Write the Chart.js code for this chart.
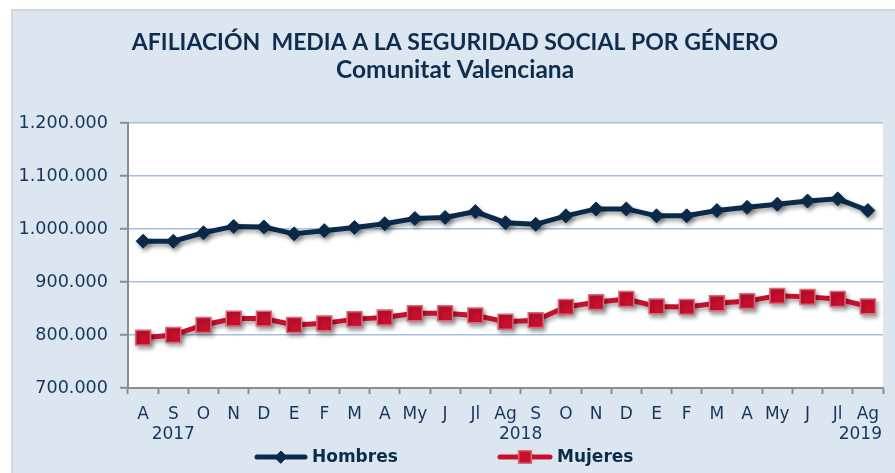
<!DOCTYPE html>
<html>
<head>
<meta charset="utf-8">
<script src="https://cdn.jsdelivr.net/npm/chart.js@4.4.1/dist/chart.umd.min.js"></script>
<style>
  html, body { margin: 0; padding: 0; background: #ffffff; }
  #wrap { position: relative; width: 895px; height: 473px; }
</style>
</head>
<body>
<div id="wrap"><canvas id="c" width="895" height="473"></canvas></div>
<script>
// ---- Data ----
const categories = ['A','S','O','N','D','E','F','M','A','My','J','Jl','Ag','S','O','N','D','E','F','M','A','My','J','Jl','Ag'];
const hombres = [977000, 977000, 993000, 1005000, 1004000, 991000, 997000, 1003000, 1010000, 1020000, 1022000, 1033000, 1012000, 1009000, 1025000, 1038000, 1038000, 1025000, 1025000, 1035000, 1041000, 1047000, 1053000, 1057000, 1035000];
const mujeres = [795000, 800000, 819000, 831000, 831000, 819000, 822000, 830000, 833000, 841000, 841000, 837000, 825000, 828000, 853000, 862000, 868000, 854000, 853000, 860000, 864000, 874000, 872000, 868000, 854000];
const yearLabels = ['2017', '2018', '2019'];
const yearAt = [1, 12.5, 23.75];   // category index under which each year label sits
const titleText = 'AFILIACIÓN  MEDIA A LA SEGURIDAD SOCIAL POR GÉNERO';
const subtitleText = 'Comunitat Valenciana';
const seriesNames = ['Hombres', 'Mujeres'];

const NAVY = '#0b2b4b';
const RED = '#c8102e';
const TEXT = '#17365d';

function fmt(v) {
  return String(Math.round(v)).replace(/\B(?=(\d{3})+(?!\d))/g, '.');
}

const bgPlugin = {
  id: 'bg',
  beforeDraw(chart) {
    const ctx = chart.ctx;
    ctx.save();
    ctx.fillStyle = '#ffffff';
    ctx.fillRect(0, 0, chart.width, chart.height);
    ctx.fillStyle = '#dce6f1';
    ctx.fillRect(12, 10, chart.width - 12, chart.height - 10);
    ctx.strokeStyle = '#d6d6d6';
    ctx.lineWidth = 2;
    ctx.beginPath();
    ctx.moveTo(12, chart.height);
    ctx.lineTo(12, 10);
    ctx.lineTo(chart.width, 10);
    ctx.stroke();
    const a = chart.chartArea;
    ctx.fillStyle = '#ffffff';
    ctx.fillRect(a.left, a.top, a.right - a.left, a.bottom - a.top);
    ctx.restore();
  }
};

const shadowPlugin = {
  id: 'shadow',
  beforeDatasetDraw(chart) {
    const ctx = chart.ctx;
    ctx.save();
    ctx.shadowColor = 'rgba(0,0,0,0.35)';
    ctx.shadowBlur = 4;
    ctx.shadowOffsetX = 2;
    ctx.shadowOffsetY = 3;
  },
  afterDatasetDraw(chart) {
    chart.ctx.restore();
  }
};

const yearPlugin = {
  id: 'years',
  afterDraw(chart) {
    const ctx = chart.ctx;
    const xs = chart.scales.x;
    ctx.save();
    ctx.font = '17px "DejaVu Sans"';
    ctx.fillStyle = TEXT;
    ctx.textAlign = 'center';
    ctx.textBaseline = 'middle';
    yearLabels.forEach((t, i) => {
      const p = yearAt[i];
      const lo = Math.floor(p), hi = Math.ceil(p);
      const x = xs.getPixelForValue(lo) + (xs.getPixelForValue(hi) - xs.getPixelForValue(lo)) * (p - lo);
      ctx.fillText(t, x, 435);
    });
    ctx.restore();
  }
};

const legendPlugin = {
  id: 'customLegend',
  afterDraw(chart) {
    const ctx = chart.ctx;
    const y = 457;
    const items = [
      { x0: 257, x1: 305, tx: 312 },
      { x0: 500, x1: 550, tx: 557 }
    ];
    chart.data.datasets.forEach((ds, i) => {
      const it = items[i];
      ctx.save();
      ctx.strokeStyle = ds.borderColor;
      ctx.lineWidth = 5;
      ctx.lineCap = 'round';
      ctx.beginPath();
      ctx.moveTo(it.x0, y);
      ctx.lineTo(it.x1, y);
      ctx.stroke();
      ctx.lineWidth = ds.pointBorderWidth;
      Chart.helpers.drawPoint(ctx, {
        pointStyle: ds.pointStyle,
        radius: ds.pointRadius * 0.85,
        borderWidth: ds.pointBorderWidth,
        rotation: 0
      }, (it.x0 + it.x1) / 2, y);
      ctx.fillStyle = ds.pointBackgroundColor;
      ctx.strokeStyle = ds.pointBorderColor;
      ctx.fill();
      if (ds.pointBorderWidth) ctx.stroke();
      ctx.font = 'bold 17px "DejaVu Sans"';
      ctx.fillStyle = NAVY;
      ctx.textAlign = 'left';
      ctx.textBaseline = 'middle';
      ctx.fillText(ds.label, it.tx, y + 1);
      ctx.restore();
    });
  }
};

new Chart(document.getElementById('c'), {
  type: 'line',
  data: {
    labels: categories,
    datasets: [
      {
        label: seriesNames[0],
        data: hombres,
        borderColor: NAVY,
        backgroundColor: NAVY,
        borderWidth: 5,
        pointStyle: 'rectRot',
        pointRadius: 7,
        pointBackgroundColor: NAVY,
        pointBorderColor: NAVY,
        pointBorderWidth: 1,
        tension: 0
      },
      {
        label: seriesNames[1],
        data: mujeres,
        borderColor: RED,
        backgroundColor: RED,
        borderWidth: 5,
        pointStyle: 'rect',
        pointRadius: 10.5,
        pointBackgroundColor: RED,
        pointBorderColor: '#d86a78',
        pointBorderWidth: 1.5,
        tension: 0
      }
    ]
  },
  options: {
    responsive: false,
    animation: false,
    devicePixelRatio: 1,
    layout: { padding: { left: 16, right: 1, top: 0, bottom: 0 } },
    plugins: {
      legend: { display: false },
      tooltip: { enabled: false },
      title: {
        display: true,
        text: titleText,
        color: '#0f2d4f',
        font: { family: 'Lato', weight: 'bold', size: 23, lineHeight: 1.2 },
        padding: { top: 29, bottom: 0 }
      },
      subtitle: {
        display: true,
        text: subtitleText,
        color: '#0f2d4f',
        font: { family: 'Lato', weight: 'bold', size: 24.5, lineHeight: 1.0 },
        padding: { top: 1.5, bottom: 40.5 }
      }
    },
    scales: {
      x: {
        offset: true,
        grid: {
          display: true,
          offset: true,
          drawOnChartArea: false,
          drawTicks: true,
          tickLength: 6,
          tickColor: '#8c8c8c',
          tickWidth: 2
        },
        border: { display: true, color: '#8c8c8c', width: 2 },
        ticks: {
          color: TEXT,
          font: { family: 'DejaVu Sans', size: 17 },
          padding: 10,
          maxRotation: 0,
          autoSkip: false
        },
        afterFit(scale) { scale.height = 85; }
      },
      y: {
        min: 700000,
        max: 1200000,
        grid: {
          color: '#a7c0e0',
          lineWidth: 1.5,
          drawTicks: true,
          tickLength: 8,
          tickColor: '#8c8c8c',
          tickWidth: 2
        },
        border: { display: true, color: '#8c8c8c', width: 2 },
        ticks: {
          stepSize: 100000,
          color: TEXT,
          font: { family: 'DejaVu Sans', size: 17.6 },
          padding: 12,
          callback: (v) => fmt(v)
        },
        afterFit(scale) { scale.width = 112; }
      }
    }
  },
  plugins: [bgPlugin, shadowPlugin, yearPlugin, legendPlugin]
});
</script>
</body>
</html>
